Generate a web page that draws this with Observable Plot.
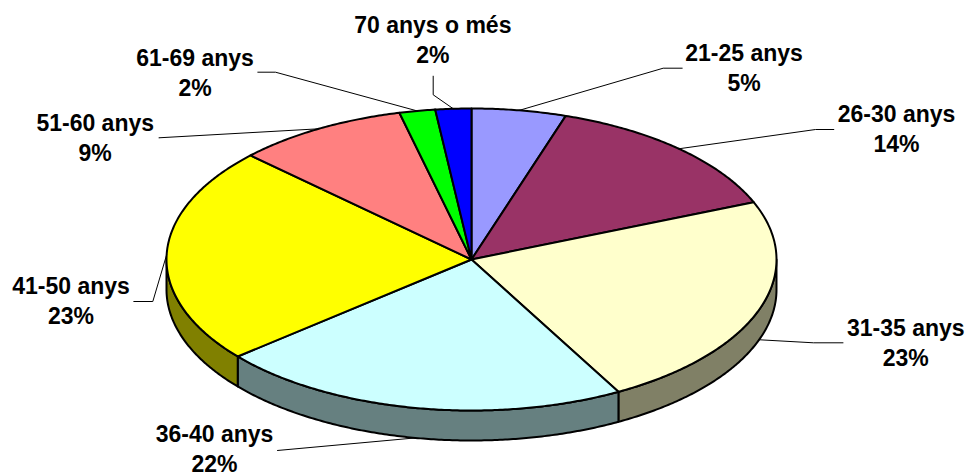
<!DOCTYPE html>
<html><head><meta charset="utf-8">
<script src="https://cdn.jsdelivr.net/npm/d3@7"></script>
<script src="https://cdn.jsdelivr.net/npm/@observablehq/plot@0.6"></script>
<style>html,body{margin:0;padding:0;background:#fff}</style>
</head><body><div id="chart"></div>
<script>
// ---- data ----
const categories = ["21-25 anys","26-30 anys","31-35 anys","36-40 anys","41-50 anys","51-60 anys","61-69 anys","70 anys o més"];
const values = [5.0, 13.8, 23.2, 21.9, 23.2, 9.1, 1.9, 1.9];
const percentLabels = ["5%","14%","23%","22%","23%","9%","2%","2%"];
const colors = ["#9999FF","#993366","#FFFFCC","#CCFFFF","#FFFF00","#FF8080","#00FF00","#0000FF"];

// ---- layout ----
const W = 966, H = 474;
const cx = 471, cy = 259, rx = 305, ry = 151, depth = 30;
// per label: [centerX, lastBaselineY, startX, startY, elbowX, elbowY]
const labelLayout = [
  [743.5, 90,    681.7, 67.7,  662.7, 67.7],
  [896,   151.7, 833.3, 129,   815,   129],
  [905.3, 365,   842.5, 342.3, 813,   342.3],
  [214,   471.7, 276.7, 450,   276.7, 450],
  [70.5,  323.3, 133.3, 301,   152.3, 301],
  [94.7,  160,   158.3, 137.3, 158.3, 137.3],
  [194.5, 95,    257.3, 71.7,  275,   71.7],
  [432.3, 62.3,  432.7, 75.7,  432.7, 94.3]
];

const rad = d => d * Math.PI / 180;
const pt = (deg, off) => ({x: cx + rx * Math.sin(rad(deg)), y: cy - ry * Math.cos(rad(deg)) + off});
const darken = c => { const r = d3.rgb(c); return d3.rgb(r.r * 0.5, r.g * 0.5, r.b * 0.5).formatHex(); };

const total = d3.sum(values);
let cum = 0;
const slices = values.map((v, i) => {
  const a = cum / total * 360; cum += v; const b = cum / total * 360;
  return {i, a, b, mid: (a + b) / 2};
});

const arc = (a, b, off) => {
  const n = Math.max(2, Math.ceil((b - a) / 0.5));
  return d3.range(n + 1).map(k => pt(a + (b - a) * k / n, off));
};

const tops = [], sides = [], leaders = [];
for (const s of slices) {
  const poly = [{x: cx, y: cy}, ...arc(s.a, s.b, 0), {x: cx, y: cy}];
  poly.forEach(p => tops.push({...p, id: "t" + s.i, fill: colors[s.i]}));
  const lo = Math.max(s.a, 90), hi = Math.min(s.b, 270);
  if (lo < hi) {
    const sp = [...arc(lo, hi, 0), ...arc(lo, hi, depth).reverse()];
    sp.push(sp[0]);
    sp.forEach(p => sides.push({...p, id: "s" + s.i, fill: darken(colors[s.i])}));
  }
  const L = labelLayout[s.i];
  const end = pt(s.mid, Math.cos(rad(s.mid)) < 0 ? depth : 0);
  [{x: L[2], y: L[3]}, {x: L[4], y: L[5]}, end].forEach(p => leaders.push({...p, id: "l" + s.i}));
}

const labels = slices.map(s => ({
  x: labelLayout[s.i][0], y: labelLayout[s.i][1],
  text: categories[s.i] + "\n" + percentLabels[s.i]
}));

const chart = Plot.plot({
  width: W, height: H,
  margin: 0,
  style: {background: "#fff"},
  x: {domain: [0, W], range: [0, W], axis: null},
  y: {domain: [0, H], range: [0, H], axis: null},
  color: {type: "identity"},
  marks: [
    Plot.line(sides, {x: "x", y: "y", z: "id", fill: "fill", stroke: "#000", strokeWidth: 2, strokeLinejoin: "round", curve: "linear"}),
    Plot.line(tops, {x: "x", y: "y", z: "id", fill: "fill", stroke: "#000", strokeWidth: 2, strokeLinejoin: "round", curve: "linear"}),
    Plot.line(leaders, {x: "x", y: "y", z: "id", stroke: "#000", strokeWidth: 1, curve: "linear"}),
    Plot.text(labels, {x: "x", y: "y", text: "text", textAnchor: "middle", lineAnchor: "bottom",
      lineHeight: 30 / 23, fontSize: 23, fontWeight: "bold",
      fontFamily: "'Liberation Sans', Arial, sans-serif", fill: "#000"})
  ]
});
document.getElementById("chart").appendChild(chart);
</script>
</body></html>
